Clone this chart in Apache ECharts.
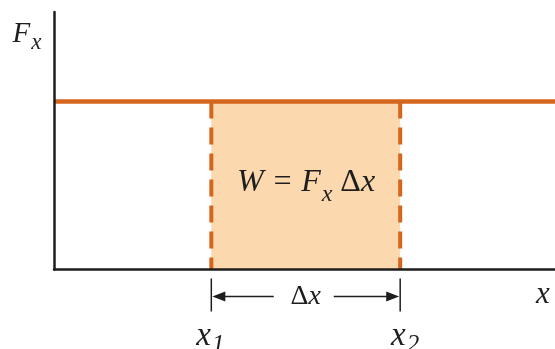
<!DOCTYPE html>
<html><head><meta charset="utf-8">
<script src="https://cdn.jsdelivr.net/npm/echarts@6/dist/echarts.min.js"></script>
<style>html,body{margin:0;padding:0;background:#fff}#c{width:555px;height:349px}</style>
</head><body><div id="c"></div>
<script>
// ---- data ----
const xRange = [0, 10];
const yRange = [0, 10];
const forceValue = 6.52;      // constant F_x
const x1Value = 3.14;         // x1
const x2Value = 6.91;         // x2
const forceLineXs = [0, 10];
const formulaPos = [5.03, 3.36];
const labels = { yAxis: 'F', yAxisSub: 'x', xAxis: 'x', x1: 'x', x1Sub: '1', x2: 'x', x2Sub: '2' };

// ---- style ----
const ORANGE = '#D4661E';
const FILL = '#FCD8AE';
const INK = '#1e1e1e';
const FONT = 'Liberation Serif';

const chart = echarts.init(document.getElementById('c'), null, { renderer: 'canvas' });
const axisCommon = {
  type: 'value', z: 10,
  axisLine: { show: true, lineStyle: { color: INK, width: 2.5 } },
  axisTick: { show: false }, axisLabel: { show: false }, splitLine: { show: false }
};
chart.setOption({
  animation: false,
  backgroundColor: '#fff',
  grid: { left: 54, right: 0, top: 12, bottom: 79.5, containLabel: false },
  xAxis: Object.assign({ min: xRange[0], max: xRange[1] }, axisCommon),
  yAxis: Object.assign({ min: yRange[0], max: yRange[1] }, axisCommon),
  series: [
    {
      type: 'line', data: forceLineXs.map(x => [x, forceValue]), symbol: 'none', z: 5,
      lineStyle: { color: ORANGE, width: 4.5 },
      markArea: { silent: true, itemStyle: { color: FILL }, data: [[{ coord: [x1Value, yRange[0]] }, { coord: [x2Value, forceValue] }]] }
    },
    { type: 'line', data: [[x1Value, forceValue], [x1Value, yRange[0]]], symbol: 'none', z: 4,
      lineStyle: { color: ORANGE, width: 4, type: [17, 9] } },
    { type: 'line', data: [[x2Value, forceValue], [x2Value, yRange[0]]], symbol: 'none', z: 4,
      lineStyle: { color: ORANGE, width: 4, type: [17, 9] } }
  ]
});

// ---- annotations positioned from the axes' scales ----
const px = v => chart.convertToPixel({ xAxisIndex: 0, yAxisIndex: 0 }, v);
const o = px([xRange[0], yRange[0]]);
const a = px([x1Value, yRange[0]]);
const b = px([x2Value, yRange[0]]);
const fp = px(formulaPos);
const xr = px([xRange[1], yRange[0]]);
const yt = px([xRange[0], yRange[1]]);
const axisY = o[1];
const arrowY = axisY + 27;
const mid = (a[0] + b[0]) / 2;

const it = (size) => ({ fontFamily: FONT, fontStyle: 'italic', fontSize: size, fill: INK });
const up = (size) => ({ fontFamily: FONT, fontStyle: 'normal', fontSize: size, fill: INK });

function sub(x, y, main, s, mainSize, subSize, drop) {
  return {
    type: 'text', x: x, y: y, z: 50,
    style: {
      text: '{m|' + main + '}{s|' + s + '}',
      align: 'center', verticalAlign: 'middle', fill: INK,
      rich: {
        m: Object.assign(it(mainSize), { lineHeight: mainSize, verticalAlign: 'top' }),
        s: Object.assign(it(subSize), { lineHeight: subSize, verticalAlign: 'top', padding: [drop, 0, 0, 1] })
      }
    }
  };
}

const graphics = [
  sub(o[0] - 27, yt[1] + 22, labels.yAxis, labels.yAxisSub, 29, 23, 12),
  { type: 'text', x: xr[0] - 12, y: axisY + 25, z: 50, style: Object.assign(it(31), { text: labels.xAxis, align: 'center', verticalAlign: 'middle' }) },
  {
    type: 'text', x: fp[0], y: fp[1], z: 50,
    style: {
      text: '{m|W = F}{s|x}{g| Δ}{m|x}', align: 'center', verticalAlign: 'middle', fill: INK,
      rich: {
        m: Object.assign(it(32), { lineHeight: 32, verticalAlign: 'top' }),
        g: Object.assign(up(32), { lineHeight: 32, verticalAlign: 'top' }),
        s: Object.assign(it(24), { lineHeight: 24, verticalAlign: 'top', padding: [16, 0, 0, 1] })
      }
    }
  },
  { type: 'line', z: 40, shape: { x1: a[0], y1: axisY + 9, x2: a[0], y2: axisY + 42 }, style: { stroke: INK, lineWidth: 1.5 } },
  { type: 'line', z: 40, shape: { x1: b[0], y1: axisY + 9, x2: b[0], y2: axisY + 42 }, style: { stroke: INK, lineWidth: 1.5 } },
  { type: 'line', z: 40, shape: { x1: a[0] + 10, y1: arrowY, x2: mid - 32, y2: arrowY }, style: { stroke: INK, lineWidth: 1.5 } },
  { type: 'line', z: 40, shape: { x1: mid + 28, y1: arrowY, x2: b[0] - 10, y2: arrowY }, style: { stroke: INK, lineWidth: 1.5 } },
  { type: 'polygon', z: 40, shape: { points: [[a[0] + 1, arrowY], [a[0] + 14, arrowY - 5], [a[0] + 14, arrowY + 5]] }, style: { fill: INK } },
  { type: 'polygon', z: 40, shape: { points: [[b[0] - 1, arrowY], [b[0] - 14, arrowY - 5], [b[0] - 14, arrowY + 5]] }, style: { fill: INK } },
  {
    type: 'text', x: mid, y: arrowY, z: 50,
    style: { text: '{g|Δ}{m|x}', align: 'center', verticalAlign: 'middle', fill: INK,
      rich: { g: up(28), m: it(28) } }
  },
  sub(a[0] - 1, axisY + 67, labels.x1, labels.x1Sub, 33, 25, 13),
  sub(b[0] + 5, axisY + 67, labels.x2, labels.x2Sub, 33, 25, 13)
];
chart.setOption({ graphic: graphics });
</script>
</body></html>
